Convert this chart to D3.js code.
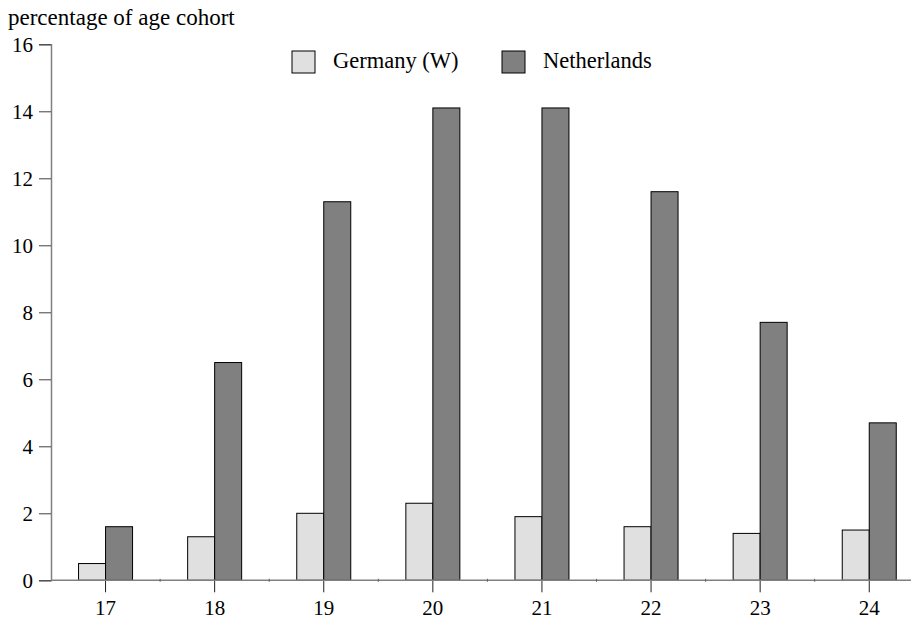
<!DOCTYPE html>
<html><head><meta charset="utf-8">
<script src="https://cdn.jsdelivr.net/npm/d3@7"></script>
<style>body{margin:0;background:#fff}svg{display:block}svg text{font-family:'Liberation Serif','Times New Roman','DejaVu Serif',serif !important;fill:#000}</style>
</head><body>
<script>
const categories = ["17","18","19","20","21","22","23","24"];
const seriesNames = ["Germany (W)","Netherlands"];
const germany = [0.5,1.3,2.0,2.3,1.9,1.6,1.4,1.5];
const netherlands = [1.6,6.5,11.3,14.1,14.1,11.6,7.7,4.7];
const yTicks = [0,2,4,6,8,10,12,14,16];
const colors = ["#e0e0e0","#808080"];

const FONT="'Liberation Serif','Times New Roman','DejaVu Serif',serif";
const W=911,H=619;
const svg=d3.select("body").append("svg").attr("width",W).attr("height",H).attr("font-family",FONT);
const x0=51, bandW=109.1;
const x=d3.scaleBand().domain(categories).range([x0,x0+bandW*categories.length]).padding(0);
const y=d3.scaleLinear().domain([0,16]).range([580.3,44.3]);
const barW=27;

// title
svg.append("text").attr("x",8).attr("y",25).attr("font-size",23).attr("font-family",FONT).text("percentage of age cohort");

// y axis
const ya=svg.append("g").attr("transform",`translate(${x0},0)`)
 .call(d3.axisLeft(y).tickValues(yTicks).tickSize(12).tickPadding(6).tickFormat(d3.format("d")));
ya.attr("font-family",FONT);
ya.select(".domain").attr("stroke","#808080").attr("stroke-width",1.5);
ya.selectAll(".tick line").attr("stroke","#404040");
ya.selectAll(".tick text").attr("font-size",21).attr("font-family",FONT).attr("fill","#000");

// bars
const data=categories.map((c,i)=>({c,vals:[germany[i],netherlands[i]]}));
const g=svg.append("g");
data.forEach(d=>{
  const cx=x(d.c)+x.bandwidth()/2;
  d.vals.forEach((v,j)=>{
    g.append("rect").attr("x",j===0?cx-barW:cx).attr("y",y(v)).attr("width",barW).attr("height",y(0)-y(v))
     .attr("fill",colors[j]).attr("stroke","#000").attr("stroke-width",1);
  });
});

// x axis
const xa=svg.append("g").attr("transform",`translate(0,${y(0)})`)
 .call(d3.axisBottom(x).tickSize(12).tickPadding(8));
xa.attr("font-family",FONT);
xa.select(".domain").remove();
svg.append("line").attr("x1",x0).attr("x2",W).attr("y1",y(0)).attr("y2",y(0)).attr("stroke","#808080").attr("stroke-width",1.5);
xa.selectAll(".tick line").attr("stroke","#202020");
xa.selectAll(".tick text").attr("font-size",21).attr("font-family",FONT).attr("fill","#000");
// minor ticks at band boundaries
svg.append("g").selectAll("line").data(categories.slice(1)).join("line")
 .attr("x1",d=>x(d)).attr("x2",d=>x(d)).attr("y1",y(0)-1.5).attr("y2",y(0)+1.5).attr("stroke","#606060");

// legend
const leg=svg.append("g");
const legX=[292,502];
seriesNames.forEach((n,i)=>{
  leg.append("rect").attr("x",legX[i]).attr("y",51).attr("width",23).attr("height",22).attr("fill",colors[i]).attr("stroke","#000");
  leg.append("text").attr("x",legX[i]+41).attr("y",68).attr("font-size",22.5).attr("font-family",FONT).text(n);
});
</script>
</body></html>
